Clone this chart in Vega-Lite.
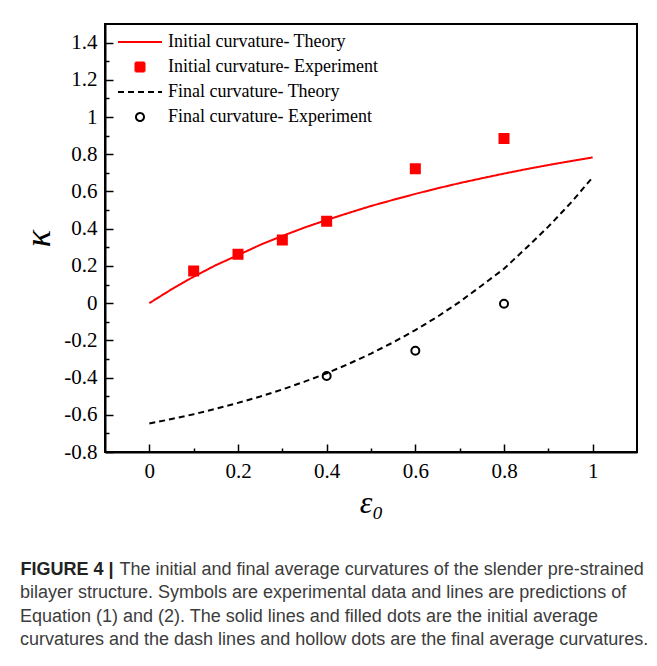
{
  "$schema": "https://vega.github.io/schema/vega-lite/v6.json",
  "width": 532,
  "height": 428,
  "autosize": "none",
  "padding": {"left": 105, "top": 24, "right": 20, "bottom": 214},
  "background": "white",
  "config": {
    "view": {"stroke": "black", "strokeWidth": 2},
    "axis": {
      "domainColor": "black", "domainWidth": 2, "tickColor": "black", "tickWidth": 1.5,
      "labelFont": "Liberation Serif", "labelFontSize": 21, "labelColor": "black",
      "grid": false, "titleColor": "black", "titleFont": "Liberation Serif"
    },
    "legend": {
      "orient": "none", "legendX": 26, "legendY": 9,
      "labelFont": "Liberation Serif", "labelFontSize": 18, "labelColor": "black",
      "labelLimit": 400, "symbolStrokeWidth": 2, "symbolSize": 100, "rowPadding": 7, "labelOffset": 19
    }
  },
  "title": {
    "text": [
      "bilayer structure. Symbols are experimental data and lines are predictions of",
      "Equation (1) and (2). The solid lines and filled dots are the initial average",
      "curvatures and the dash lines and hollow dots are the final average curvatures."
    ],
    "orient": "bottom", "anchor": "start", "frame": "group", "dx": -85, "offset": 6,
    "font": "Liberation Sans", "fontSize": 18, "fontWeight": "normal", "color": "#3c3c3c",
    "lineHeight": 23.5
  },
  "layer": [
    {
      "data": {"values": [
        {"series": "Initial curvature- Theory", "eps": 0, "kappa": 0},
        {"series": "Initial curvature- Theory", "eps": 0.05, "kappa": 0.074},
        {"series": "Initial curvature- Theory", "eps": 0.1, "kappa": 0.142},
        {"series": "Initial curvature- Theory", "eps": 0.15, "kappa": 0.204},
        {"series": "Initial curvature- Theory", "eps": 0.2, "kappa": 0.258},
        {"series": "Initial curvature- Theory", "eps": 0.25, "kappa": 0.313},
        {"series": "Initial curvature- Theory", "eps": 0.3, "kappa": 0.361},
        {"series": "Initial curvature- Theory", "eps": 0.35, "kappa": 0.406},
        {"series": "Initial curvature- Theory", "eps": 0.4, "kappa": 0.447},
        {"series": "Initial curvature- Theory", "eps": 0.45, "kappa": 0.485},
        {"series": "Initial curvature- Theory", "eps": 0.5, "kappa": 0.522},
        {"series": "Initial curvature- Theory", "eps": 0.55, "kappa": 0.555},
        {"series": "Initial curvature- Theory", "eps": 0.6, "kappa": 0.587},
        {"series": "Initial curvature- Theory", "eps": 0.65, "kappa": 0.617},
        {"series": "Initial curvature- Theory", "eps": 0.7, "kappa": 0.645},
        {"series": "Initial curvature- Theory", "eps": 0.75, "kappa": 0.671},
        {"series": "Initial curvature- Theory", "eps": 0.8, "kappa": 0.696},
        {"series": "Initial curvature- Theory", "eps": 0.85, "kappa": 0.72},
        {"series": "Initial curvature- Theory", "eps": 0.9, "kappa": 0.742},
        {"series": "Initial curvature- Theory", "eps": 0.95, "kappa": 0.763},
        {"series": "Initial curvature- Theory", "eps": 1.0, "kappa": 0.783},
        {"series": "Final curvature- Theory", "eps": 0, "kappa": -0.647},
        {"series": "Final curvature- Theory", "eps": 0.05, "kappa": -0.623},
        {"series": "Final curvature- Theory", "eps": 0.1, "kappa": -0.597},
        {"series": "Final curvature- Theory", "eps": 0.15, "kappa": -0.568},
        {"series": "Final curvature- Theory", "eps": 0.2, "kappa": -0.536},
        {"series": "Final curvature- Theory", "eps": 0.25, "kappa": -0.502},
        {"series": "Final curvature- Theory", "eps": 0.3, "kappa": -0.464},
        {"series": "Final curvature- Theory", "eps": 0.35, "kappa": -0.422},
        {"series": "Final curvature- Theory", "eps": 0.4, "kappa": -0.377},
        {"series": "Final curvature- Theory", "eps": 0.45, "kappa": -0.326},
        {"series": "Final curvature- Theory", "eps": 0.5, "kappa": -0.271},
        {"series": "Final curvature- Theory", "eps": 0.55, "kappa": -0.211},
        {"series": "Final curvature- Theory", "eps": 0.6, "kappa": -0.145},
        {"series": "Final curvature- Theory", "eps": 0.65, "kappa": -0.073},
        {"series": "Final curvature- Theory", "eps": 0.7, "kappa": 0.007},
        {"series": "Final curvature- Theory", "eps": 0.75, "kappa": 0.095},
        {"series": "Final curvature- Theory", "eps": 0.8, "kappa": 0.185},
        {"series": "Final curvature- Theory", "eps": 0.85, "kappa": 0.296},
        {"series": "Final curvature- Theory", "eps": 0.9, "kappa": 0.411},
        {"series": "Final curvature- Theory", "eps": 0.95, "kappa": 0.537},
        {"series": "Final curvature- Theory", "eps": 1.0, "kappa": 0.676}
      ]},
      "mark": {"type": "line", "strokeWidth": 2},
      "encoding": {
        "x": {
          "field": "eps", "type": "quantitative",
          "scale": {"domain": [-0.1, 1.1], "nice": false, "zero": false},
          "axis": {
            "orient": "bottom", "values": [0, 0.2, 0.4, 0.6, 0.8, 1.0], "tickSize": -8,
            "labelExpr": "'' + datum.value", "labelPadding": 16, "labelFlush": false,
            "title": "ε₀", "titleFontSize": 32, "titleFontStyle": "italic", "titleFontWeight": "normal", "titlePadding": 6
          }
        },
        "y": {
          "field": "kappa", "type": "quantitative",
          "scale": {"domain": [-0.8, 1.5], "nice": false, "zero": false},
          "axis": {
            "orient": "left", "values": [-0.8, -0.6, -0.4, -0.2, 0, 0.2, 0.4, 0.6, 0.8, 1, 1.2, 1.4], "tickSize": -8,
            "labelExpr": "'' + datum.value", "labelPadding": 16, "labelFlush": false,
            "title": "κ", "titleFontSize": 36, "titleFontStyle": "italic", "titleFontWeight": "normal", "titlePadding": 6
          }
        },
        "stroke": {
          "field": "series", "type": "nominal",
          "scale": {
            "domain": ["Initial curvature- Theory", "Initial curvature- Experiment", "Final curvature- Theory", "Final curvature- Experiment"],
            "range": ["#ff0000", "#ff0000", "#000000", "#000000"]
          },
          "legend": {"title": null}
        },
        "strokeDash": {
          "field": "series", "type": "nominal",
          "scale": {
            "domain": ["Initial curvature- Theory", "Initial curvature- Experiment", "Final curvature- Theory", "Final curvature- Experiment"],
            "range": [[1, 0], [1, 0], [6, 4], [1, 0]]
          },
          "legend": {"title": null}
        }
      }
    },
    {
      "data": {"values": [
        {"series": "Initial curvature- Experiment", "eps": 0.1, "kappa": 0.172},
        {"series": "Initial curvature- Experiment", "eps": 0.2, "kappa": 0.263},
        {"series": "Initial curvature- Experiment", "eps": 0.3, "kappa": 0.339},
        {"series": "Initial curvature- Experiment", "eps": 0.4, "kappa": 0.44},
        {"series": "Initial curvature- Experiment", "eps": 0.6, "kappa": 0.722},
        {"series": "Initial curvature- Experiment", "eps": 0.8, "kappa": 0.885},
        {"series": "Final curvature- Experiment", "eps": 0.4, "kappa": -0.392},
        {"series": "Final curvature- Experiment", "eps": 0.6, "kappa": -0.256},
        {"series": "Final curvature- Experiment", "eps": 0.8, "kappa": -0.003}
      ]},
      "mark": {"type": "point", "strokeWidth": 2, "opacity": 1, "size": 100},
      "encoding": {
        "x": {
          "field": "eps", "type": "quantitative",
          "scale": {"domain": [-0.1, 1.1], "nice": false, "zero": false},
          "axis": {
            "orient": "bottom", "values": [0.1, 0.3, 0.5, 0.7, 0.9], "tickSize": -4,
            "labels": false, "domain": false,
            "title": "The initial and final average curvatures of the slender pre-strained",
            "titleFont": "Liberation Sans", "titleFontSize": 18, "titleFontWeight": "normal", "titleColor": "#3c3c3c",
            "titleX": 14, "titleY": 108, "titleAnchor": "start", "titleAlign": "left", "titleBaseline": "top", "titleAngle": 0
          }
        },
        "y": {
          "field": "kappa", "type": "quantitative",
          "scale": {"domain": [-0.8, 1.5], "nice": false, "zero": false},
          "axis": {
            "orient": "left", "values": [-0.7, -0.5, -0.3, -0.1, 0.1, 0.3, 0.5, 0.7, 0.9, 1.1, 1.3], "tickSize": -4,
            "labels": false, "domain": false,
            "title": "FIGURE 4 |",
            "titleFont": "Liberation Sans", "titleFontSize": 18, "titleFontWeight": "bold", "titleColor": "#222222",
            "titleX": -85, "titleY": 536, "titleAnchor": "start", "titleAlign": "left", "titleBaseline": "top", "titleAngle": 0
          }
        },
        "stroke": {
          "field": "series", "type": "nominal",
          "scale": {
            "domain": ["Initial curvature- Theory", "Initial curvature- Experiment", "Final curvature- Theory", "Final curvature- Experiment"],
            "range": ["#ff0000", "#ff0000", "#000000", "#000000"]
          },
          "legend": {"title": null}
        },
        "fill": {
          "field": "series", "type": "nominal",
          "scale": {
            "domain": ["Initial curvature- Theory", "Initial curvature- Experiment", "Final curvature- Theory", "Final curvature- Experiment"],
            "range": ["#ff0000", "#ff0000", "transparent", "transparent"]
          },
          "legend": {"title": null}
        },
        "shape": {
          "field": "series", "type": "nominal",
          "scale": {
            "domain": ["Initial curvature- Theory", "Initial curvature- Experiment", "Final curvature- Theory", "Final curvature- Experiment"],
            "range": [
              "M-4.4,0H4.4",
              "M-0.9,-0.9H0.9V0.9H-0.9Z",
              "M-4.4,0H4.4",
              "M-0.8,0A0.8,0.8,0,1,1,0.8,0A0.8,0.8,0,1,1,-0.8,0Z"
            ]
          },
          "legend": {"title": null}
        }
      }
    }
  ],
  "resolve": {"axis": {"x": "independent", "y": "independent"}}
}
